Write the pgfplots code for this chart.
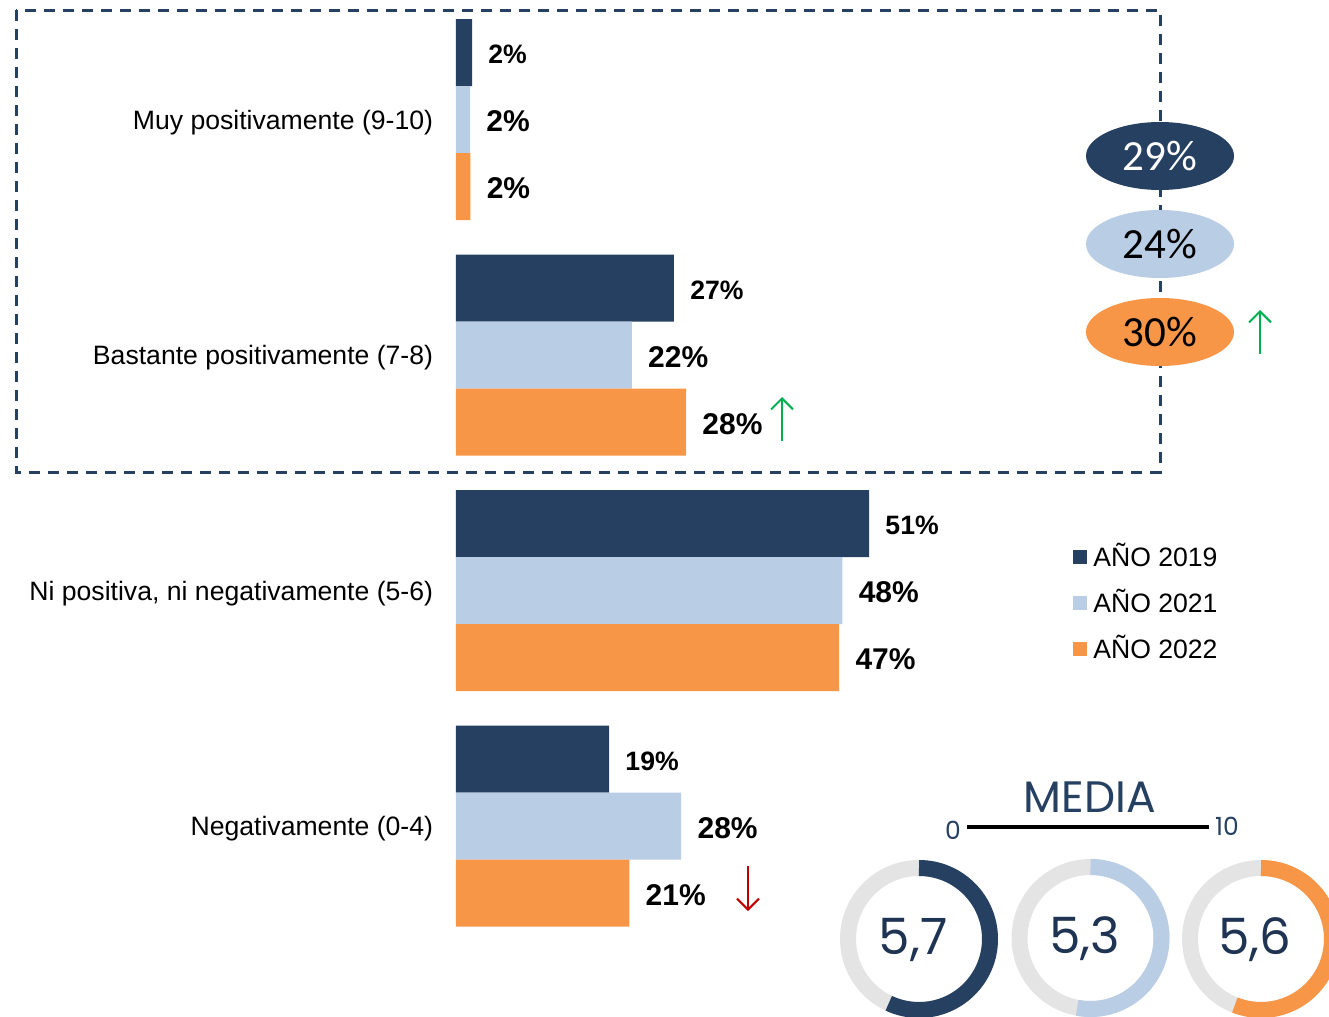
\documentclass[border=0pt]{standalone}
\usepackage{fontspec}
\setmainfont{Liberation Sans}
\newfontfamily\calibri{Carlito}
\newfontfamily\geo{Poppins}
\usepackage{pgfplots}
\pgfplotsset{compat=1.18}
\usetikzlibrary{arrows.meta}

\definecolor{navy}{HTML}{264061}
\definecolor{lblue}{HTML}{B9CDE5}
\definecolor{orng}{HTML}{F79646}
\definecolor{ringgray}{HTML}{E4E4E4}
\definecolor{upgreen}{HTML}{00B050}
\definecolor{downred}{HTML}{C00000}
\definecolor{numnavy}{HTML}{1F3352}

\begin{document}
\begin{tikzpicture}
\useasboundingbox (0,0) rectangle (664.5pt,-508.5pt);

% bars: x in percent, y in pixel rows of the original (1 px = 0.5pt)
\begin{axis}[
  at={(228pt,-508.5pt)}, anchor=south west,
  scale only axis, width=436.5pt, height=508.5pt,
  xmin=0, xmax=107.78, ymin=0, ymax=1017, y dir=reverse,
  xbar, bar width=67, bar shift=0pt,
  axis line style={draw=none}, tick style={draw=none},
  xtick=\empty,
  ytick={119.5,355,590.5,826},
  yticklabels={Muy positivamente (9-10), Bastante positivamente (7-8),
    {Ni positiva, ni negativamente (5-6)}, Negativamente (0-4)},
  yticklabel style={font=\fontsize{13.3}{15}\selectfont, inner sep=0pt, xshift=-7pt, yshift=-1.5pt},
  /pgf/number format/assume math mode=true,
  point meta=x,
  nodes near coords={\pgfmathprintnumber[fixed,precision=0]{\pgfplotspointmeta}\%},
  nodes near coords style={anchor=west, inner sep=0pt, xshift=8pt, yshift=-1pt},
  legend image code/.code={\fill[#1,draw=none] (0pt,-3.5pt) rectangle (7pt,3.5pt);},
  legend cell align=left,
  legend style={at={(axis cs:76.17,547)}, anchor=north west, draw=none, fill=none,
    font=\fontsize{13.3}{15}\selectfont, inner sep=0pt, row sep=13.5pt, column sep=3pt,
    nodes={inner sep=0pt, text height=9.5pt, text depth=0pt}},
]
\addplot[fill=navy, draw=none, nodes near coords style={font=\bfseries\fontsize{13.3}{15}\selectfont}]
  coordinates {(1.98,52.5) (26.9,288) (51.0,523.5) (18.9,759)};
\addlegendentry{AÑO 2019}
\addplot[fill=lblue, draw=none, nodes near coords style={font=\bfseries\fontsize{15}{17}\selectfont}]
  coordinates {(1.73,119.5) (21.7,355) (47.7,590.5) (27.8,826)};
\addlegendentry{AÑO 2021}
\addplot[fill=orng, draw=none, nodes near coords style={font=\bfseries\fontsize{15}{17}\selectfont}]
  coordinates {(1.78,186.5) (28.4,422) (47.3,657.5) (21.4,893)};
\addlegendentry{AÑO 2022}
\end{axis}

\begin{scope}[x=0.5pt, y=-0.5pt]
  % dashed frame round the positive answers
  \draw[navy, line width=1.5pt, dash pattern=on 5.5pt off 4pt] (16,10) rectangle (1160,472);

  % totals of the positive answers
  \foreach \yy/\col/\txt/\tc in {156/navy/29/white, 244/lblue/24/black, 332/orng/30/black} {
    \fill[\col] (1160,\yy) ellipse [x radius=37pt, y radius=17pt];
    \node[text=\tc, font=\calibri\fontsize{21.5}{24}\selectfont] at (1160,\yy) {\txt\%};
  }

  % trend arrows
  \draw[upgreen, line width=1pt, -{Straight Barb[length=5.5pt,width=11pt]}] (1260,354) -- (1260,310);
  \draw[upgreen, line width=1pt, -{Straight Barb[length=5.5pt,width=11pt]}] (782,441) -- (782,397);
  \draw[downred, line width=1pt, -{Straight Barb[length=5.5pt,width=11pt]}] (748,866) -- (748,911);

  % mean score, 0 to 10
  \node[text=navy, font=\geo\fontsize{22}{24}\selectfont] at (1090,797) {MEDIA};
  \draw[line width=2pt] (967,827) -- (1209,827);
  \node[text=navy, font=\geo\fontsize{12.5}{14}\selectfont] at (953,830) {0};
  \node[text=navy, font=\geo\fontsize{12.5}{14}\selectfont] at (1227,826) {10};

  \foreach \cx/\cy/\v/\lab/\col in {919/939/5.7/{5,7}/navy, 1090.5/938/5.3/{5,3}/lblue, 1261/939/5.6/{5,6}/orng} {
    \draw[ringgray, line width=8pt] (\cx,\cy) circle [radius=35.5pt];
    \draw[\col, line width=8pt] (\cx,\cy) ++(90:35.5pt) arc[start angle=90, delta angle=-36*\v, radius=35.5pt];
    \node[text=numnavy, font=\geo\fontsize{25}{27}\selectfont] at (\cx-6,\cy+1) {\lab};
  }
\end{scope}
\end{tikzpicture}
\end{document}
